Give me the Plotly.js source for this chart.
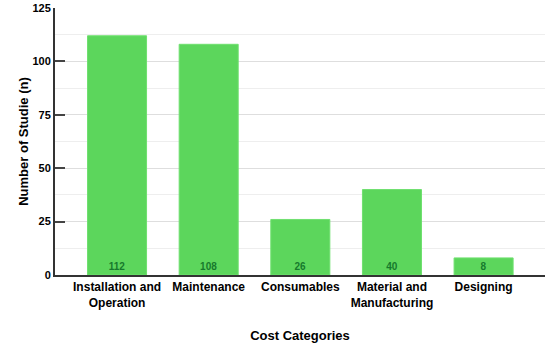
<!DOCTYPE html>
<html><head><meta charset="utf-8">
<script src="https://cdn.plot.ly/plotly-3.0.1.min.js"></script>
<style>html,body{margin:0;padding:0;background:#fff}#chart{width:550px;height:346px}</style>
</head><body><div id="chart"></div>
<script>
const categories = ["Installation and<br>Operation", "Maintenance", "Consumables", "Material and<br>Manufacturing", "Designing"];
const studies = [112, 108, 26, 40, 8];
const yTicks = [0, 25, 50, 75, 100, 125];

const trace = {
  type: 'bar',
  x: categories,
  y: studies,
  text: studies.map(String),
  textposition: 'inside',
  insidetextanchor: 'start',
  textangle: 0,
  textfont: {family: 'Arial, Liberation Sans, sans-serif', size: 10, color: '#167a2c', weight: 'bold'},
  marker: {color: '#5cd65c', line: {color: '#6fe06f', width: 1}},
  hoverinfo: 'none'
};

const layout = {
  width: 550, height: 346,
  margin: {l: 55, r: 5, t: 8, b: 71},
  paper_bgcolor: '#fff', plot_bgcolor: '#fff',
  bargap: 0.356,
  showlegend: false,
  font: {family: 'Arial, Liberation Sans, sans-serif', color: '#000'},
  xaxis: {
    range: [-0.677, 4.67],
    showline: true, linecolor: '#333', linewidth: 2,
    showgrid: false, ticks: '',
    tickfont: {size: 12, weight: 'bold', color: '#000'},
    title: {text: 'Cost Categories', font: {size: 13, weight: 'bold', color: '#000'}, standoff: 22},
    zeroline: false
  },
  yaxis: {
    range: [0, 125],
    tickvals: yTicks, ticktext: yTicks.map(String),
    showline: true, linecolor: '#333', linewidth: 2,
    ticks: 'inside', ticklen: 10, tickwidth: 2, tickcolor: '#444',
    showgrid: true, gridcolor: '#dedede', gridwidth: 1,
    minor: {dtick: 12.5, showgrid: true, gridcolor: '#eeeeee', gridwidth: 1, ticks: ''},
    zeroline: false,
    tickfont: {size: 11, weight: 'bold', color: '#000'},
    title: {text: 'Number of Studie (n)', font: {size: 13, weight: 'bold', color: '#000'}, standoff: 1}
  }
};

Plotly.newPlot('chart', [trace], layout, {staticPlot: true, displayModeBar: false});
</script></body></html>
